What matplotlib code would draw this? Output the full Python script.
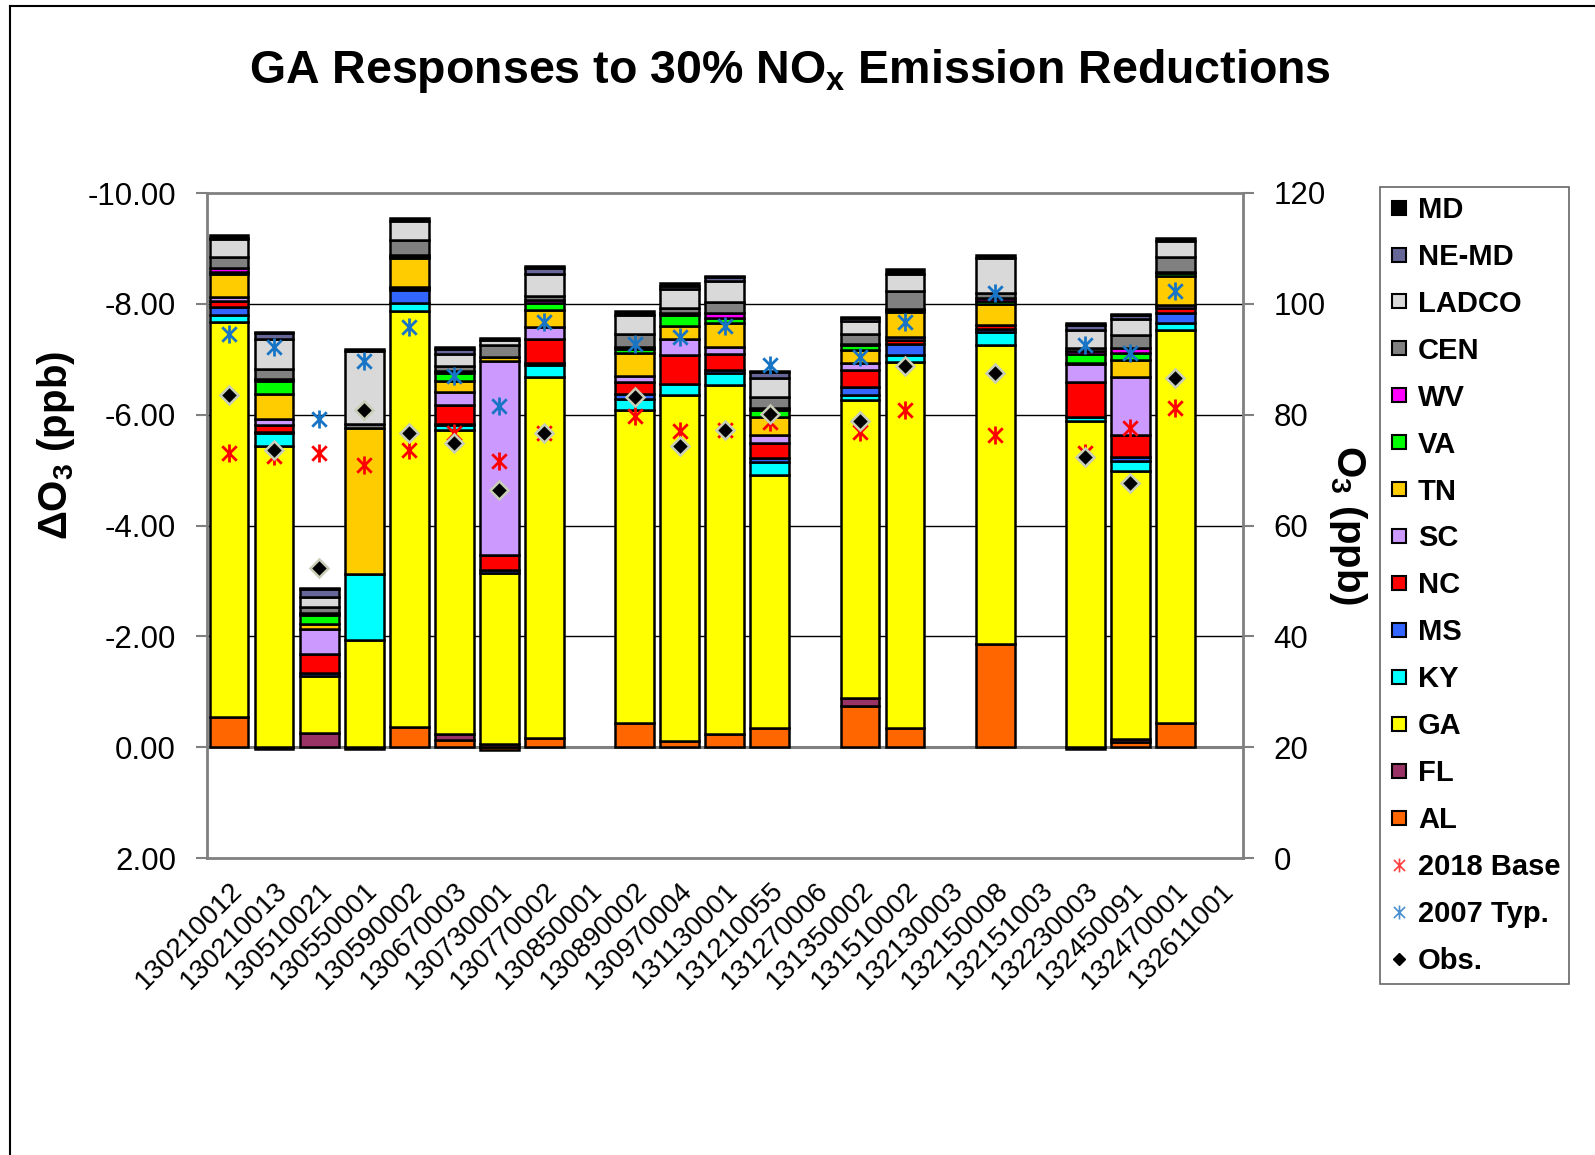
import numpy as np
import matplotlib
matplotlib.use('Agg')
import matplotlib.pyplot as plt
import matplotlib.transforms as mtransforms
from matplotlib.lines import Line2D
from matplotlib.path import Path

plt.rcParams['font.family'] = ['Liberation Sans', 'DejaVu Sans']
plt.rcParams['mathtext.fontset'] = 'custom'
plt.rcParams['mathtext.rm'] = 'Liberation Sans'
plt.rcParams['mathtext.bf'] = 'Liberation Sans:bold'

# === Data
sites = ['130210012', '130210013', '130510021', '130550001', '130590002', '130670003',
         '130730001', '130770002', '130850001', '130890002', '130970004', '131130001',
         '131210055', '131270006', '131350002', '131510002', '132130003', '132150008',
         '132151003', '132230003', '132450091', '132470001', '132611001']

# contributions by source region (ppb, negative = reduction)
AL = [-0.55, 0.03, 0, 0.03, -0.36, -0.13, 0.05, -0.16, 0, -0.43, -0.11, -0.23, -0.34, 0,
      -0.74, -0.35, 0, -1.87, 0, 0.03, -0.09, -0.43, 0]
FL = [0, 0, -0.25, 0, 0, -0.10, -0.05, 0, 0, 0, 0, 0, 0, 0, -0.14, 0, 0, 0, 0, 0, -0.05, 0, 0]
GA = [-7.13, -5.44, -1.04, -1.94, -7.51, -5.49, -3.10, -6.52, 0, -5.65, -6.24, -6.30, -4.58, 0,
      -5.38, -6.60, 0, -5.39, 0, -5.88, -4.85, -7.09, 0]
KY = [-0.12, -0.23, 0, -1.19, -0.14, -0.10, 0, -0.22, 0, -0.20, -0.20, -0.22, -0.22, 0,
      -0.10, -0.13, 0, -0.24, 0, -0.08, -0.18, -0.13, 0]
MS = [-0.14, -0.02, -0.05, 0, -0.24, -0.02, -0.05, -0.03, 0, -0.10, 0, -0.06, -0.07, 0,
      -0.14, -0.19, 0, -0.04, 0, 0, -0.06, -0.19, 0]
NC = [-0.11, -0.13, -0.34, 0, -0.03, -0.34, -0.26, -0.43, 0, -0.21, -0.53, -0.29, -0.28, 0,
      -0.30, -0.07, 0, -0.08, 0, -0.63, -0.41, -0.09, 0]
SC = [-0.08, -0.11, -0.45, 0, -0.02, -0.23, -3.51, -0.22, 0, -0.10, -0.29, -0.12, -0.15, 0,
      -0.13, -0.06, 0, 0, 0, -0.32, -1.04, -0.05, 0]
TN = [-0.40, -0.45, -0.10, -2.63, -0.52, -0.20, -0.07, -0.31, 0, -0.43, -0.23, -0.44, -0.32, 0,
      -0.24, -0.45, 0, -0.37, 0, -0.03, -0.30, -0.53, 0]
VA = [-0.05, -0.22, -0.15, 0, -0.03, -0.15, 0, -0.12, 0, -0.06, -0.19, -0.09, -0.12, 0,
      -0.09, -0.03, 0, -0.06, 0, -0.15, -0.14, -0.05, 0]
WV = [-0.06, -0.05, -0.05, 0, -0.03, -0.02, 0, -0.06, 0, -0.05, -0.05, -0.09, -0.04, 0,
      -0.02, -0.03, 0, -0.05, 0, -0.06, -0.08, -0.02, 0]
CEN = [-0.20, -0.17, -0.10, -0.08, -0.28, -0.10, -0.22, -0.08, 0, -0.23, -0.08, -0.19, -0.19, 0,
       -0.17, -0.32, 0, -0.10, 0, -0.06, -0.24, -0.26, 0]
LADCO = [-0.33, -0.54, -0.18, -1.31, -0.33, -0.22, -0.08, -0.39, 0, -0.34, -0.35, -0.39, -0.36, 0,
         -0.24, -0.31, 0, -0.63, 0, -0.31, -0.29, -0.30, 0]
NE_MD = [-0.02, -0.11, -0.15, 0, 0, -0.08, 0, -0.10, 0, 0, -0.05, -0.07, -0.10, 0,
         -0.06, 0, 0, 0, 0, -0.10, -0.06, 0, 0]
MD = [-0.05, -0.03, -0.02, -0.03, -0.05, -0.05, -0.04, -0.05, 0, -0.07, -0.05, -0.02, -0.02, 0,
      -0.02, -0.08, 0, -0.05, 0, -0.03, -0.02, -0.05, 0]

# ozone design values (ppb, right axis)
nan = np.nan
base_2018 = [73.1, 72.5, 73.1, 70.9, 73.7, 76.7, 71.6, 76.7, nan, 79.8, 77.0, 77.2, 78.6, nan,
             76.8, 80.8, nan, 76.4, nan, 73.1, 77.6, 81.2, nan]
typ_2007 = [94.6, 92.2, 79.2, 89.6, 95.8, 86.9, 81.6, 96.7, nan, 92.8, 94.0, 96.0, 89.0, nan,
            90.4, 96.7, nan, 101.9, nan, 92.5, 91.2, 102.4, nan]
obs = [83.5, 73.7, 52.3, 80.8, 76.7, 74.9, 66.4, 76.7, nan, 83.1, 74.4, 77.2, 80.2, nan,
       78.8, 88.8, nan, 87.5, nan, 72.3, 67.6, 86.7, nan]

regions = ['AL', 'FL', 'GA', 'KY', 'MS', 'NC', 'SC', 'TN', 'VA', 'WV', 'CEN', 'LADCO', 'NE-MD', 'MD']
values = [AL, FL, GA, KY, MS, NC, SC, TN, VA, WV, CEN, LADCO, NE_MD, MD]
colors = ['#FF6600', '#993366', '#FFFF00', '#00FFFF', '#3366FF', '#FF0000', '#CC99FF',
          '#FFCC00', '#00FF00', '#FF00FF', '#808080', '#D9D9D9', '#666699', '#000000']

# excel-like asterisk marker (vertical bar + X)
star = Path([(0, -1), (0, 1), (-0.8, -0.8), (0.8, 0.8), (-0.8, 0.8), (0.8, -0.8)],
            [Path.MOVETO, Path.LINETO, Path.MOVETO, Path.LINETO, Path.MOVETO, Path.LINETO])

W, H = 1595, 1155
fig = plt.figure(figsize=(W / 100, H / 100), dpi=100)
ax_l, ax_r, ax_t, ax_b = 206.5, 1243, 193, 858
ax = fig.add_axes([ax_l / W, 1 - ax_b / H, (ax_r - ax_l) / W, (ax_b - ax_t) / H])

x = np.arange(len(sites))
neg_bottom = np.zeros(len(sites))
pos_bottom = np.zeros(len(sites))
for name, vals, c in zip(regions, values, colors):
    v = np.array(vals, dtype=float)
    bottom = np.where(v < 0, neg_bottom, pos_bottom)
    keep = v != 0
    ax.bar(x[keep], v[keep], bottom=bottom[keep], width=0.86, color=c, edgecolor='black',
           linewidth=1.8, zorder=2)
    neg_bottom += np.where(v < 0, v, 0)
    pos_bottom += np.where(v > 0, v, 0)

ax.set_xlim(-0.5, len(sites) - 0.5)
ax.set_ylim(2, -10)
ax.set_yticks(np.arange(-10, 2.1, 2))
ax.set_yticklabels([f'{t:.2f}' for t in np.arange(-10, 2.1, 2)])
for g in [-8, -6, -4, -2]:
    ax.axhline(g, color='black', lw=1.0, zorder=0)
ax.axhline(0, color='#808080', lw=2.2, zorder=1)
ax.set_xticks(x)
ax.set_xticklabels(sites, rotation=45, ha='right', va='top', rotation_mode='anchor', fontsize=20)
shift = mtransforms.ScaledTranslation(-7 / 100, 2 / 100, fig.dpi_scale_trans)
for lbl in ax.get_xticklabels():
    lbl.set_transform(lbl.get_transform() + shift)
ax.tick_params(axis='x', length=0, pad=14)
ax.tick_params(axis='y', labelsize=22.5, length=8, width=1.5, color='#808080', pad=14)
for s in ax.spines.values():
    s.set_color('#808080')
    s.set_linewidth(2)

ax2 = ax.twinx()
ax2.set_ylim(0, 120)
ax2.set_yticks(np.arange(0, 121, 20))
ax2.tick_params(axis='y', labelsize=22.5, length=8, width=1.5, color='#808080', pad=14)
for s in ax2.spines.values():
    s.set_visible(False)
ax2.plot(x, base_2018, ls='none', marker=star, ms=13, mew=2, mec='#FF0000', mfc='none', zorder=4)
ax2.plot(x, typ_2007, ls='none', marker=star, ms=13, mew=2, mec='#1874C4', mfc='none', zorder=4)
ax2.plot(x, obs, ls='none', marker='D', ms=9, mfc='black', mec='#C8CEB8', mew=1.8, zorder=5)

fig.text(790 / W, 1 - 71 / H, r'GA Responses to 30% NO$_\mathbf{x}$ Emission Reductions',
         ha='center', va='center', fontsize=33.5, fontweight='bold')
fig.text(56 / W, 1 - 445 / H, r'ΔO$_\mathbf{3}$ (ppb)', rotation=90, ha='center', va='center',
         fontsize=29, fontweight='bold')
fig.text(1348 / W, 1 - 525 / H, r'O$_\mathbf{3}$ (ppb)', rotation=270, ha='center', va='center',
         fontsize=29, fontweight='bold')

# legend
handles = []
labels = []
for name, c in reversed(list(zip(regions, colors))):
    handles.append(Line2D([], [], ls='none', marker='s', ms=10, mfc=c, mec='black', mew=1.5))
    labels.append(name)
handles.append(Line2D([], [], ls='none', marker=star, ms=10, mew=1.2, mec='#FF4040'))
labels.append('2018 Base')
handles.append(Line2D([], [], ls='none', marker=star, ms=10, mew=1.2, mec='#4A90D0'))
labels.append('2007 Typ.')
handles.append(Line2D([], [], ls='none', marker='D', ms=6, mfc='black', mec='black'))
labels.append('Obs.')
leg = fig.legend(handles, labels, loc='upper left', bbox_to_anchor=(1380 / W, 1 - 187 / H),
                 prop={'size': 21, 'weight': 'bold'}, frameon=True, fancybox=False,
                 edgecolor='#404040', handlelength=0.7, handletextpad=0.3, labelspacing=0.65,
                 borderpad=0.3, borderaxespad=0)
leg.get_frame().set_linewidth(1.2)

# outer chart border
fig.add_artist(Line2D([10 / W, 10 / W], [0, 1 - 6 / H], transform=fig.transFigure, color='black', lw=1.5))
fig.add_artist(Line2D([10 / W, 1], [1 - 6 / H, 1 - 6 / H], transform=fig.transFigure, color='black', lw=1.5))

fig.savefig('out.png', dpi=100)
